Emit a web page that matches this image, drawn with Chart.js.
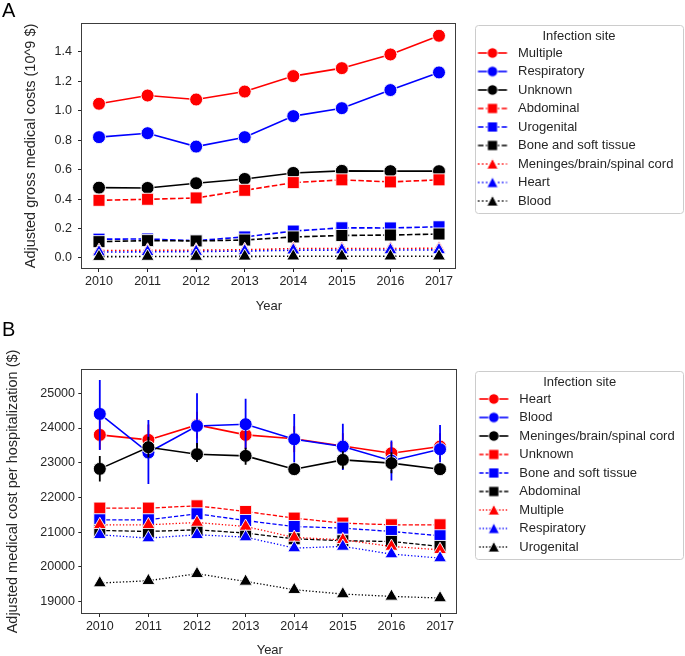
<!DOCTYPE html>
<html><head><meta charset="utf-8">
<script src="https://cdn.jsdelivr.net/npm/chart.js@4.4.1/dist/chart.umd.min.js"></script>
<style>
html,body{margin:0;padding:0;background:#fff;overflow:hidden;}
#wrap{position:relative;width:685px;height:656px;overflow:hidden;background:#fff;}
canvas{position:absolute;left:0;}
#cA{top:0;} #cB{top:310px;}
.lbl{position:absolute;left:2px;font:20px "Liberation Sans",Arial,sans-serif;color:#000;line-height:20px;}
</style></head><body>
<div id="wrap">
<canvas id="cA" width="702" height="318" style="width:702px;height:318px"></canvas>
<canvas id="cB" width="702" height="350" style="width:702px;height:350px"></canvas>
<div class="lbl" style="top:0px">A</div>
<div class="lbl" style="top:319px">B</div>
</div>
<script>
// ---------- DATA ----------
const years = [2010, 2011, 2012, 2013, 2014, 2015, 2016, 2017];
const yTicksA = [0.0, 0.2, 0.4, 0.6, 0.8, 1.0, 1.2, 1.4];
const yTicksB = [19000, 20000, 21000, 22000, 23000, 24000, 25000];

// Panel A: adjusted gross medical costs (10^9 $)
const A_multiple    = [1.048, 1.104, 1.077, 1.131, 1.236, 1.290, 1.383, 1.510];
const A_respiratory = [0.821, 0.848, 0.757, 0.821, 0.964, 1.018, 1.141, 1.261];
const A_unknown     = [0.478, 0.476, 0.508, 0.537, 0.578, 0.592, 0.590, 0.590];
const A_abdominal   = [0.392, 0.399, 0.408, 0.460, 0.512, 0.531, 0.517, 0.531];
const A_urogenital  = [0.128, 0.129, 0.118, 0.143, 0.183, 0.205, 0.204, 0.212];
const A_bone        = [0.111, 0.118, 0.116, 0.122, 0.143, 0.153, 0.156, 0.163];
const A_meninges    = [0.050, 0.052, 0.053, 0.056, 0.064, 0.065, 0.064, 0.066];
const A_heart       = [0.040, 0.042, 0.044, 0.047, 0.053, 0.054, 0.054, 0.055];
const A_blood       = [0.009, 0.010, 0.010, 0.011, 0.012, 0.012, 0.012, 0.012];

// Panel B: adjusted medical cost per hospitalization ($)
const B_heart      = [23802, 23658, 24089, 23802, 23690, 23480, 23275, 23466];
const B_blood      = [24405, 23293, 24060, 24109, 23677, 23466, 23060, 23390];
const B_meninges   = [22824, 23447, 23246, 23198, 22815, 23083, 22988, 22815];
const B_unknown    = [21694, 21694, 21760, 21597, 21406, 21262, 21214, 21214];
const B_bone       = [21358, 21358, 21530, 21338, 21165, 21118, 21022, 20898];
const B_abdominal  = [21051, 21022, 21070, 20975, 20811, 20754, 20734, 20590];
const B_multiple   = [21214, 21214, 21280, 21165, 20849, 20783, 20590, 20495];
const B_respiratory= [20926, 20831, 20926, 20860, 20544, 20590, 20371, 20256];
const B_urogenital = [19537, 19604, 19805, 19584, 19345, 19221, 19153, 19106];

// Panel B error bars (lower, upper)
const B_heart_lo    = [23380, 23250, 23700, 23400, 23300, 23150, 22900, 23100];
const B_heart_hi    = [24220, 24100, 24470, 24200, 24050, 23850, 23600, 23850];
const B_blood_lo    = [23370, 22390, 23150, 23380, 22900, 22790, 22490, 22700];
const B_blood_hi    = [25380, 24230, 25000, 24840, 24400, 24120, 23640, 24090];
const B_meninges_lo = [22460, 23150, 23020, 22940, 22650, 22830, 22700, 22650];
const B_meninges_hi = [23195, 23750, 23570, 23430, 22980, 23330, 23300, 22980];

// ---------- STYLE ----------
const FONT = '"Liberation Sans", Arial, sans-serif';
const TEXT = '#262626';
const RED = '#ff0000', BLUE = '#0000ff', BLACK = '#000000';
const SOLID = [], DASH_A = [5.5, 2.4], DOT_A = [1.5, 2.5], DASH_B = [4.2, 2], DOT_B = [1.3, 2];
const RADIUS = {circle: 6.5, rect: 8.5, triangle: 7.5};

const seriesA = [
  {name: 'Multiple', vals: A_multiple, color: RED, marker: 'circle', dash: SOLID},
  {name: 'Respiratory', vals: A_respiratory, color: BLUE, marker: 'circle', dash: SOLID},
  {name: 'Unknown', vals: A_unknown, color: BLACK, marker: 'circle', dash: SOLID},
  {name: 'Abdominal', vals: A_abdominal, color: RED, marker: 'rect', dash: DASH_A},
  {name: 'Urogenital', vals: A_urogenital, color: BLUE, marker: 'rect', dash: DASH_A},
  {name: 'Bone and soft tissue', vals: A_bone, color: BLACK, marker: 'rect', dash: DASH_A},
  {name: 'Meninges/brain/spinal cord', vals: A_meninges, color: RED, marker: 'triangle', dash: DOT_A},
  {name: 'Heart', vals: A_heart, color: BLUE, marker: 'triangle', dash: DOT_A},
  {name: 'Blood', vals: A_blood, color: BLACK, marker: 'triangle', dash: DOT_A}
];
const seriesB = [
  {name: 'Heart', vals: B_heart, color: RED, marker: 'circle', dash: SOLID, lo: B_heart_lo, hi: B_heart_hi},
  {name: 'Blood', vals: B_blood, color: BLUE, marker: 'circle', dash: SOLID, lo: B_blood_lo, hi: B_blood_hi},
  {name: 'Meninges/brain/spinal cord', vals: B_meninges, color: BLACK, marker: 'circle', dash: SOLID, lo: B_meninges_lo, hi: B_meninges_hi},
  {name: 'Unknown', vals: B_unknown, color: RED, marker: 'rect', dash: DASH_B},
  {name: 'Bone and soft tissue', vals: B_bone, color: BLUE, marker: 'rect', dash: DASH_B},
  {name: 'Abdominal', vals: B_abdominal, color: BLACK, marker: 'rect', dash: DASH_B},
  {name: 'Multiple', vals: B_multiple, color: RED, marker: 'triangle', dash: DOT_B},
  {name: 'Respiratory', vals: B_respiratory, color: BLUE, marker: 'triangle', dash: DOT_B},
  {name: 'Urogenital', vals: B_urogenital, color: BLACK, marker: 'triangle', dash: DOT_B}
];

function makeHandle(s, lw) {
  const W = 70, H = 20;
  const c = document.createElement('canvas'); c.width = W; c.height = H;
  const g = c.getContext('2d');
  const x0 = 26.5, x1 = 55.5, cy = 10, cx = 41;
  g.strokeStyle = s.color; g.lineWidth = lw; g.setLineDash(s.dash);
  g.beginPath(); g.moveTo(x0, cy); g.lineTo(x1, cy); g.stroke();
  g.setLineDash([]);
  g.fillStyle = s.color; g.strokeStyle = '#ffffff'; g.lineWidth = 0.8;
  g.beginPath();
  if (s.marker === 'circle') g.arc(cx, cy, 5.2, 0, 2 * Math.PI);
  else if (s.marker === 'rect') g.rect(cx - 5, cy - 5, 10, 10);
  else { g.moveTo(cx, cy - 5.5); g.lineTo(cx + 5.5, cy + 5); g.lineTo(cx - 5.5, cy + 5); g.closePath(); }
  g.fill(); g.stroke();
  return c;
}

function lineDs(s, order, lw) {
  return {
    label: s.name,
    data: years.map((x, i) => ({x: x, y: s.vals[i]})),
    borderColor: s.color, backgroundColor: s.color, borderWidth: lw, borderDash: s.dash,
    pointStyle: s.marker, pointRadius: RADIUS[s.marker], pointHoverRadius: RADIUS[s.marker],
    pointBackgroundColor: s.color, pointBorderColor: 'rgba(255,255,255,0.9)', pointBorderWidth: 1,
    tension: 0, fill: false, order: order
  };
}
function errDs(s, order) {
  const d = [];
  years.forEach((x, i) => { d.push({x: x, y: s.lo[i]}); d.push({x: x, y: s.hi[i]}); d.push({x: x, y: null}); });
  return {
    label: s.name + ' CI', data: d, borderColor: s.color, backgroundColor: s.color, borderWidth: 1.8,
    pointRadius: 0, pointHoverRadius: 0, spanGaps: false, fill: false, order: order, isErr: true
  };
}

const boxPlugin = {
  id: 'boxes',
  afterInit(chart, args, opts) {
    const lg = chart.legend;
    if (lg) {
      const f = lg.fit;
      lg.fit = function () { f.call(this); this.width = opts.legendWidth; };
    }
  },
  afterDraw(chart, args, opts) {
    const ctx = chart.ctx, a = chart.chartArea;
    ctx.save();
    ctx.strokeStyle = '#3c3c3c'; ctx.lineWidth = 1; ctx.setLineDash([]);
    const l = Math.round(a.left) - 0.5, t = Math.round(a.top) - 0.5;
    const r = Math.round(a.right) - 0.5, b = Math.round(a.bottom) + 0.5;
    ctx.strokeRect(l, t, r - l, b - t);
    const lg = chart.legend;
    if (lg && lg.legendHitBoxes && lg.legendHitBoxes.length) {
      const hb = lg.legendHitBoxes[lg.legendHitBoxes.length - 1];
      const bx = Math.round(lg.left + opts.boxLeft) + 0.5;
      const bw = Math.round(opts.boxWidth);
      const by = Math.round(lg.top + opts.boxTop) + 0.5;
      const bb = Math.round(hb.top + hb.height + 5.5) + 0.5;
      ctx.strokeStyle = '#cccccc';
      ctx.beginPath();
      ctx.roundRect(bx, by, bw, bb - by, 3);
      ctx.stroke();
    }
    ctx.restore();
  }
};

function buildChart(canvasId, series, cfg) {
  const datasets = [];
  let k = 0;
  series.forEach(s => {
    datasets.push(lineDs(s, 100 - k, s.dash.length ? cfg.lwDash : cfg.lwSolid)); k++;
    if (s.lo) { datasets.push(errDs(s, 100 - k)); k++; }
  });
  const handles = series.map(s => makeHandle(s, s.dash.length ? cfg.lwDash : cfg.lwSolid));
  return new Chart(document.getElementById(canvasId), {
    type: 'line',
    data: {datasets: datasets},
    plugins: [boxPlugin],
    options: {
      responsive: false, animation: false, devicePixelRatio: 1,
      events: [],
      layout: {padding: {left: 0, right: 0, top: cfg.top, bottom: 0}},
      plugins: {
        tooltip: {enabled: false},
        boxes: {legendWidth: cfg.legendWidth, boxLeft: cfg.boxLeft, boxTop: 1, boxWidth: 208},
        legend: {
          position: 'right', align: 'start',
          title: {display: true, text: 'Infection site', color: TEXT,
                  font: {size: 13, family: FONT, lineHeight: 1}, padding: {top: 5.5, bottom: -1.5}},
          labels: {
            usePointStyle: true, pointStyleWidth: 50, padding: 5.5, color: TEXT,
            font: {size: 13, family: FONT},
            generateLabels: () => series.map((s, i) => ({
              text: s.name, pointStyle: handles[i], fillStyle: s.color, strokeStyle: s.color,
              lineWidth: 0, hidden: false, fontColor: TEXT, datasetIndex: i
            }))
          }
        }
      },
      scales: {
        x: {
          type: 'linear', min: cfg.xMin, max: cfg.xMax,
          afterFit: sc => { sc.height = cfg.xHeight; },
          afterBuildTicks: sc => { sc.ticks = years.map(v => ({value: v})); },
          border: {display: false},
          grid: {display: true, drawOnChartArea: false, drawTicks: true, tickLength: 4, tickColor: TEXT, tickWidth: 1},
          ticks: {autoSkip: false, maxRotation: 0, padding: cfg.xTickPad, color: TEXT,
                  font: {size: 12.5, family: FONT}, callback: v => String(v)},
          title: {display: true, text: 'Year', color: TEXT, font: {size: 13, family: FONT},
                  padding: {top: 0, bottom: cfg.yearPad}}
        },
        y: {
          type: 'linear', min: cfg.yMin, max: cfg.yMax,
          afterFit: sc => { sc.width = cfg.yWidth; },
          afterBuildTicks: sc => { sc.ticks = cfg.yTicks.map(v => ({value: v})); },
          border: {display: false},
          grid: {display: true, drawOnChartArea: false, drawTicks: true, tickLength: 4, tickColor: TEXT, tickWidth: 1},
          ticks: {padding: cfg.yTickPad, color: TEXT, font: {size: 12.5, family: FONT}, callback: cfg.yFmt},
          title: {display: true, text: cfg.yTitle, color: TEXT, font: {size: 14.5, family: FONT},
                  padding: {top: cfg.yTitlePad, bottom: 0}}
        }
      }
    }
  });
}

buildChart('cA', seriesA, {
  top: 24, legendWidth: 246, boxLeft: 19, lwSolid: 1.6, lwDash: 1.6,
  xMin: 2009.65, xMax: 2017.35, xHeight: 50, xTickPad: 2, yearPad: 4.2,
  yMin: -0.068, yMax: 1.59, yWidth: 82, yTickPad: 6, yTicks: yTicksA,
  yFmt: v => Number(v).toFixed(1), yTitle: 'Adjusted gross medical costs (10^9 $)', yTitlePad: 22
});
buildChart('cB', seriesB, {
  top: 60, legendWidth: 244.7, boxLeft: 17.7, lwSolid: 1.6, lwDash: 1.3,
  xMin: 2009.64, xMax: 2017.355, xHeight: 47, xTickPad: 2, yearPad: 2.2,
  yMin: 18675, yMax: 25670, yWidth: 82.3, yTickPad: 3.3, yTicks: yTicksB,
  yFmt: v => String(v), yTitle: 'Adjusted medical cost per hospitalization ($)', yTitlePad: 3.8
});
</script>
</body></html>
